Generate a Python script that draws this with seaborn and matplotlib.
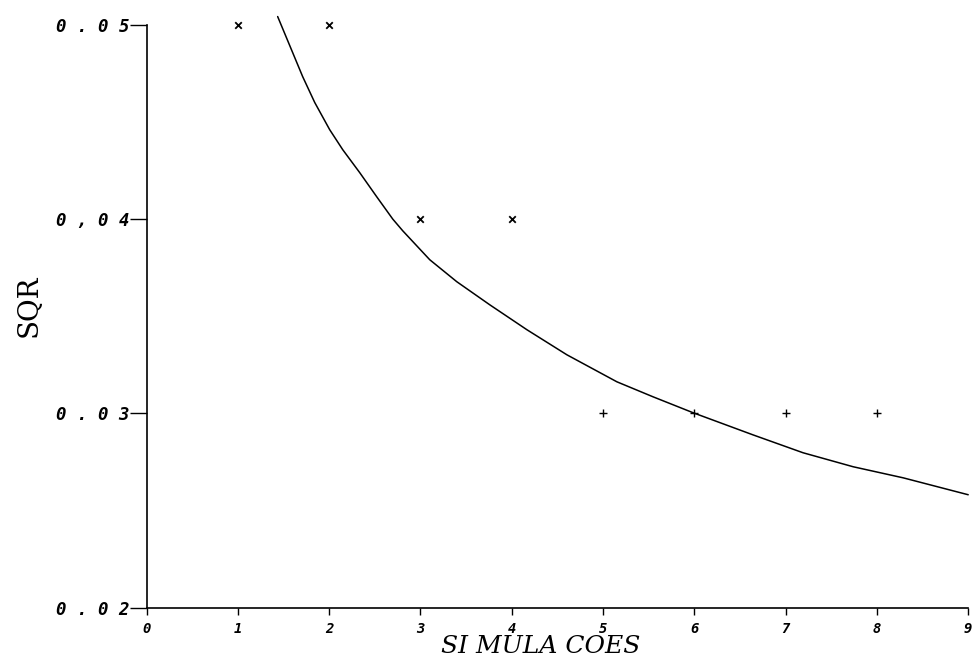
import numpy as np
import pandas as pd
import seaborn as sns
import matplotlib.pyplot as plt

# observed points
obs_x_cross = [1, 2, 3, 4]
obs_y_cross = [0.05, 0.05, 0.04, 0.04]
obs_x_plus = [5, 6, 7, 8]
obs_y_plus = [0.03, 0.03, 0.03, 0.03]

# fitted curve
curve_x = [1.436, 1.601, 1.710, 1.842, 2.006, 2.149, 2.335, 2.521, 2.697,
           2.806, 3.102, 3.398, 3.760, 4.166, 4.604, 5.152, 5.547, 5.986,
           6.643, 7.191, 7.740, 8.288, 9.000]
curve_y = [0.05042, 0.04856, 0.04733, 0.04600, 0.04460, 0.04357, 0.04239,
           0.04115, 0.04000, 0.03940, 0.03791, 0.03678, 0.03559, 0.03431,
           0.03302, 0.03163, 0.03086, 0.03004, 0.02890, 0.02798, 0.02726,
           0.02669, 0.02582]

x_ticks = [0, 1, 2, 3, 4, 5, 6, 7, 8, 9]
y_ticks = [0.02, 0.03, 0.04, 0.05]
y_tick_labels = ["0 . 0 2", "0 . 0 3", "0 , 0 4", "0 . 0 5"]

sns.set_theme(style="white")
plt.rcParams['font.family'] = ['DejaVu Sans']

fig = plt.figure(figsize=(9.77, 6.68), dpi=100)
ax = fig.add_axes([0.150, 0.090, 0.841, 0.873])

curve = pd.DataFrame({'x': curve_x, 'y': curve_y})
sns.lineplot(data=curve, x='x', y='y', ax=ax, color='black', linewidth=1.1,
             sort=True, estimator=None, clip_on=False)

sns.scatterplot(x=obs_x_cross, y=obs_y_cross, ax=ax, marker='x', color='black',
                s=22, linewidth=1.3, clip_on=False)
sns.scatterplot(x=obs_x_plus, y=obs_y_plus, ax=ax, marker='+', color='black',
                s=40, linewidth=1.0, clip_on=False)

ax.set_xlim(0, 9)
ax.set_ylim(0.02, 0.05)
ax.set_xticks(x_ticks)
ax.set_xticklabels([str(v) for v in x_ticks], family='DejaVu Sans Mono',
                   fontweight='bold', style='oblique', fontsize=10)
ax.set_yticks(y_ticks)
ax.set_yticklabels(y_tick_labels, family='DejaVu Sans Mono',
                   fontweight='bold', style='oblique', fontsize=12.5)

for side in ['top', 'right']:
    ax.spines[side].set_visible(False)
for side in ['left', 'bottom']:
    ax.spines[side].set_color('black')
    ax.spines[side].set_linewidth(1.2)

ax.tick_params(axis='y', left=True, direction='out', length=12, width=1.0,
               pad=0, colors='black')
ax.tick_params(axis='x', bottom=True, direction='out', length=5, width=1.0,
               pad=5, colors='black')
ax.grid(False)

ax.set_xlabel("SI MULA COES", family='DejaVu Serif', style='italic',
              fontsize=18, color='black')
ax.xaxis.set_label_coords(0.48, -0.046)
ax.set_ylabel("SQR", family='DejaVu Serif', fontsize=20, color='black')
ax.yaxis.set_label_coords(-0.127, 0.518)

fig.savefig("out.png", dpi=100, facecolor='white')
